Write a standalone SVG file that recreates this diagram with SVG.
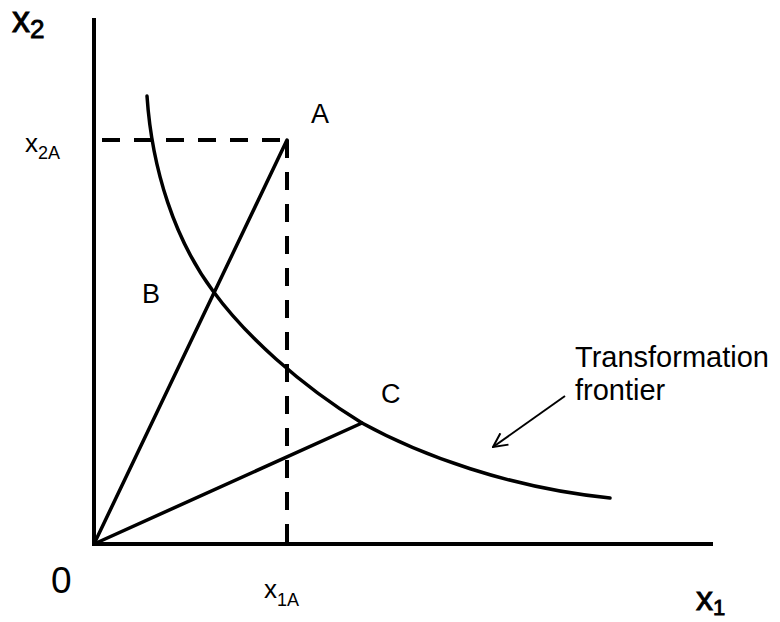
<svg xmlns="http://www.w3.org/2000/svg" width="780" height="622" viewBox="0 0 780 622">
<defs>
<style>
.ax{stroke:#000;stroke-width:4;fill:none;stroke-linecap:butt}
.ln{stroke:#000;stroke-width:3.5;fill:none;stroke-linecap:round}
.ds{stroke:#000;stroke-width:4;fill:none;stroke-dasharray:18 14}
.ar{stroke:#000;stroke-width:2;fill:none}
text{font-family:"Liberation Sans","Open Sans",sans-serif;fill:#000}
.big{stroke:#000;stroke-width:0.9}
</style>
<marker id="open" viewBox="0 0 16 16" refX="15" refY="8" markerWidth="16" markerHeight="16" markerUnits="userSpaceOnUse" orient="auto">
<path d="M1,1 L15,8 L1,15" fill="none" stroke="#000" stroke-width="2"/>
</marker>
</defs>
<rect width="780" height="622" fill="#fff"/>
<g id="connectors">
<line class="ax" x1="94" y1="18" x2="94" y2="546"/>
<line class="ax" x1="92" y1="544" x2="713" y2="544"/>
<line class="ds" x1="102" y1="140" x2="287" y2="140"/>
<line class="ds" x1="287" y1="140" x2="287" y2="544"/>
<line class="ln" x1="94" y1="544" x2="287" y2="140"/>
<line class="ln" x1="94" y1="544" x2="362" y2="423"/>
<path class="ln" d="M147,96 C152,170 175,240 213,291 C245,335 300,385 362,423 C420,455 510,488 610,498"/>
<line class="ar" x1="565" y1="396" x2="493" y2="447" marker-end="url(#open)"/>
</g>
<g id="axis-x2"><text class="big" x="12" y="32" font-size="36">x<tspan font-size="26" dy="6">2</tspan></text></g>
<g id="label-x2A"><text x="25" y="152" font-size="26">x<tspan font-size="18" dy="7">2A</tspan></text></g>
<g id="point-A"><text x="311" y="123" font-size="27">A</text></g>
<g id="point-B"><text x="142" y="303" font-size="27">B</text></g>
<g id="point-C"><text x="381" y="403" font-size="27">C</text></g>
<g id="origin"><text x="51" y="593" font-size="37">0</text></g>
<g id="label-x1A"><text x="264" y="598" font-size="26">x<tspan font-size="18" dy="8">1A</tspan></text></g>
<g id="axis-x1"><text class="big" x="696" y="610" font-size="34">x<tspan font-size="22" dy="5">1</tspan></text></g>
<g id="frontier-label"><text x="575" y="367" font-size="29">Transformation</text><text x="575" y="400" font-size="29">frontier</text></g>
</svg>
